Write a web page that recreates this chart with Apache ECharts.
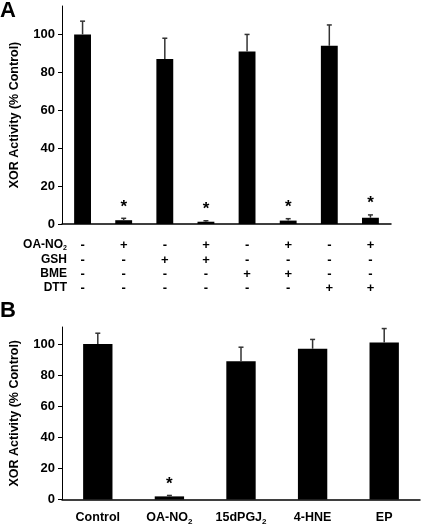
<!DOCTYPE html>
<html>
<head>
<meta charset="utf-8">
<script src="https://cdn.jsdelivr.net/npm/echarts@6/dist/echarts.min.js"></script>
<style>html,body{margin:0;padding:0;background:#fff}#c{width:422px;height:526px}</style>
</head>
<body>
<div id="c"></div>
<script>
// Panel A data
const rowOANO2 = ['-','+','-','+','-','+','-','+'];
const rowGSH   = ['-','-','+','+','-','-','-','-'];
const rowBME   = ['-','-','-','-','+','+','-','-'];
const rowDTT   = ['-','-','-','-','-','-','+','+'];
const valuesA  = [100, 2, 87, 1.2, 91, 1.8, 94, 3.3];
const errTopA  = [107, 3, 98, 1.7, 100, 2.8, 105, 4.8];
const sigA     = [0, 1, 0, 1, 0, 1, 0, 1];
// Panel B data
const catsB    = ['Control', 'OA-NO_2', '15dPGJ_2', '4-HNE', 'EP'];
const valuesB  = [100, 2, 89, 97, 101];
const errTopB  = [107, 2.6, 98, 103, 110];
const sigB     = [0, 1, 0, 0, 0];
const yTicks   = [0, 20, 40, 60, 80, 100];

const FONT = '"Liberation Sans", Arial, sans-serif';
function richSub(fs) {
  return {
    n: {fontFamily: FONT, fontWeight: 'bold', fontSize: fs, color: '#000', verticalAlign: 'top', lineHeight: fs + 1},
    s: {fontFamily: FONT, fontWeight: 'bold', fontSize: Math.round(fs * 0.62), color: '#000', verticalAlign: 'top',
        lineHeight: Math.round(fs * 0.62) + 1, padding: [Math.round(fs * 0.5), 0, 0, 0]}
  };
}
function sub(t) {
  const p = t.split('_');
  return p.length > 1 ? '{n|' + p[0] + '}{s|' + p[1] + '}' : '{n|' + t + '}';
}

const idxA = valuesA.map((_, i) => String(i));
const rows = [
  {name: 'OA-NO_2', data: rowOANO2, offset: 21},
  {name: 'GSH', data: rowGSH, offset: 36},
  {name: 'BME', data: rowBME, offset: 50},
  {name: 'DTT', data: rowDTT, offset: 64.5}
];

function yAxisCommon(max) {
  return {
    type: 'value', min: 0, max: max, interval: 20,
    name: 'XOR Activity (% Control)', nameLocation: 'middle', nameGap: 41,
    nameTextStyle: {fontFamily: FONT, fontWeight: 'bold', fontSize: 12.5, color: '#000'},
    axisLine: {show: true, lineStyle: {color: '#000', width: 1}},
    axisTick: {show: true, length: 4, customValues: yTicks, lineStyle: {color: '#000'}},
    axisLabel: {customValues: yTicks, fontFamily: FONT, fontWeight: 'bold', fontSize: 13, color: '#000', margin: 7},
    splitLine: {show: false}
  };
}

function errRender() {
  return function (params, api) {
    const i = api.value(0);
    const base = api.coord([i, api.value(1)]);
    const top = api.coord([i, api.value(2)]);
    const x = base[0];
    const children = [
      {type: 'line', shape: {x1: x, y1: base[1], x2: x, y2: top[1]}, style: {stroke: '#333', lineWidth: 1.5}},
      {type: 'line', shape: {x1: x - 2.5, y1: top[1], x2: x + 2.5, y2: top[1]}, style: {stroke: '#333', lineWidth: 1.5}}
    ];
    if (api.value(3)) {
      children.push({type: 'text', style: {text: '*', x: x, y: top[1] - 3, align: 'center', verticalAlign: 'bottom',
        font: 'bold 17px ' + FONT, fill: '#000'}});
    }
    return {type: 'group', children: children};
  };
}

const xAxes = [
  {type: 'category', gridIndex: 0, data: idxA, position: 'bottom',
   axisLine: {show: true, onZero: false, lineStyle: {color: '#000', width: 1.5}},
   axisTick: {show: false}, axisLabel: {show: false}}
];
rows.forEach(r => {
  xAxes.push({
    type: 'category', gridIndex: 0, data: idxA, position: 'bottom', offset: r.offset,
    axisLine: {show: false, onZero: false}, axisTick: {show: false},
    axisLabel: {interval: 0, margin: 0, verticalAlign: 'middle', fontFamily: FONT, fontWeight: 'bold', fontSize: 13, color: '#000',
      formatter: (v, idx) => r.data[idx]},
    name: sub(r.name), nameLocation: 'start', nameGap: -5,
    nameTextStyle: {rich: richSub(12), align: 'right', verticalAlign: 'middle'}
  });
});
xAxes.push({
  type: 'category', gridIndex: 1, data: catsB, position: 'bottom',
  axisLine: {show: true, onZero: false, lineStyle: {color: '#000', width: 1.5}},
  axisTick: {show: false},
  axisLabel: {interval: 0, margin: 12, formatter: v => sub(v), rich: richSub(12.5)}
});

const option = {
  animation: false,
  backgroundColor: '#fff',
  title: [
    {text: 'A', left: 0, top: 0, padding: 0, textStyle: {fontFamily: FONT, fontWeight: 'bold', fontSize: 22, color: '#000'}},
    {text: 'B', left: 0, top: 300, padding: 0, textStyle: {fontFamily: FONT, fontWeight: 'bold', fontSize: 22, color: '#000'}}
  ],
  grid: [
    {left: 57, top: 6, width: 334, height: 218},
    {left: 56, top: 327, width: 364, height: 172.5}
  ],
  xAxis: xAxes,
  yAxis: [Object.assign(yAxisCommon(115), {gridIndex: 0}), Object.assign(yAxisCommon(111), {gridIndex: 1})],
  series: [
    {type: 'bar', xAxisIndex: 0, yAxisIndex: 0, data: valuesA, barWidth: '41%', itemStyle: {color: '#000'}, silent: true},
    {type: 'custom', xAxisIndex: 0, yAxisIndex: 0, z: 3,
     data: valuesA.map((v, i) => [i, v, errTopA[i], sigA[i]]), renderItem: errRender()},
    {type: 'bar', xAxisIndex: 5, yAxisIndex: 1, data: valuesB, barWidth: '41%', itemStyle: {color: '#000'}, silent: true},
    {type: 'custom', xAxisIndex: 5, yAxisIndex: 1, z: 3,
     data: valuesB.map((v, i) => [i, v, errTopB[i], sigB[i]]), renderItem: errRender()}
  ]
};
const chart = echarts.init(document.getElementById('c'), null, {renderer: 'canvas'});
chart.setOption(option);
</script>
</body>
</html>
